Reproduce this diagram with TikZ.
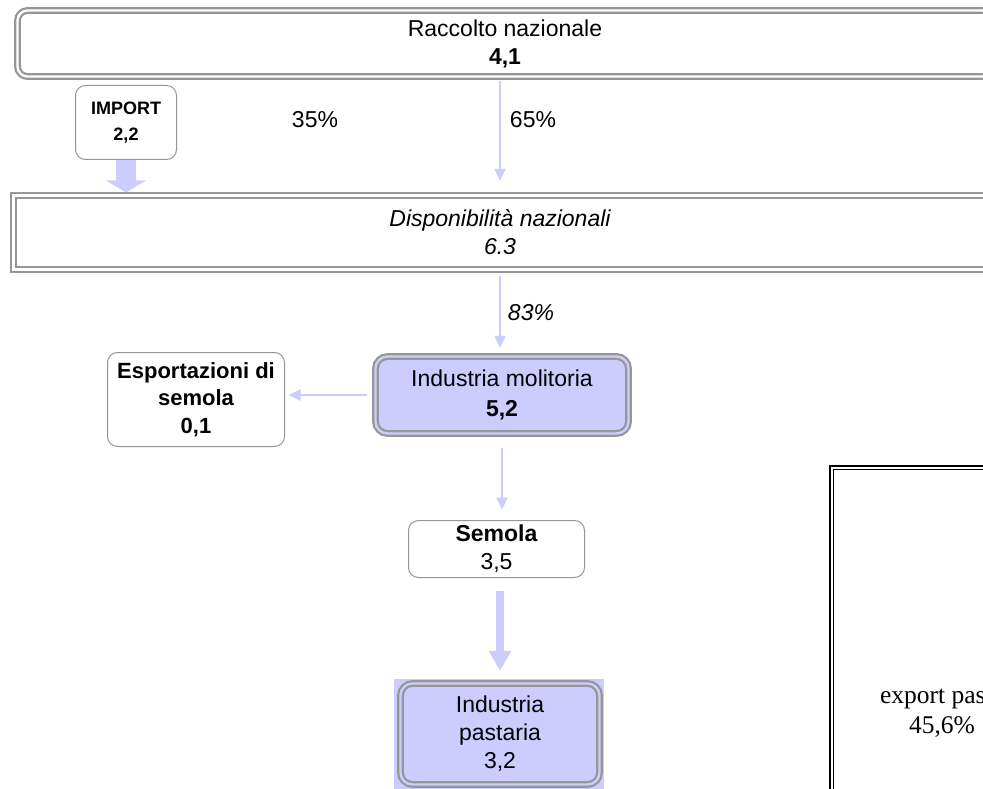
\documentclass[tikz,border=0pt]{standalone}
\usepackage{fontspec}
\newfontfamily\arialf{Liberation Sans}
\newfontfamily\timesf{Liberation Serif}
\usetikzlibrary{arrows.meta,backgrounds}
\definecolor{lav}{RGB}{204,204,255}
\definecolor{rim}{RGB}{150,150,150}
\newcommand{\bigfont}{\arialf\fontsize{23}{28}\selectfont}

\begin{document}
\begin{tikzpicture}[x=1pt, y=-1pt,
  txt/.style={font=\bigfont, align=center, inner sep=0pt},
  bandbox/.style={txt, draw=rim, line width=2.2pt, double=white, double distance=2.4pt},
  plantbox/.style={txt, draw=rim, line width=2.2pt, double=lav, double distance=2.4pt, fill=lav, rounded corners=12pt},
  roundbox/.style={txt, draw=rim, line width=1pt, fill=white, rounded corners=10pt},
  arr/.style={-{Triangle[width=11pt,length=12pt]}, line width=2pt, lav},
  fatarr/.style={-{Triangle[width=40pt,length=12pt]}, line width=20pt, lav},
  midarr/.style={-{Triangle[width=21pt,length=20pt]}, line width=8pt, lav}
]
  \useasboundingbox (0,0) rectangle (983,789);
  \clip (0,0) rectangle (983,789);
  \node[bandbox, rounded corners=10pt, minimum width=975pt, minimum height=66pt] (raccolto) at (505,43.5) {Raccolto nazionale\\\textbf{4,1}};
  \node[roundbox, font=\arialf\bfseries\fontsize{18}{26}\selectfont, minimum width=101pt, minimum height=74pt] (import) at (126,122.5) {IMPORT\\2,2};
  \node[bandbox, font=\bigfont\itshape, minimum width=973pt, minimum height=74pt] (dispon) at (500,232.5) {Disponibilità nazionali\\6.3};
  \node[plantbox, minimum width=253pt, minimum height=77pt] (molit) at (502,395) {Industria molitoria\\[2pt]\textbf{5,2}};
  \node[roundbox, font=\arialf\bfseries\fontsize{22}{27.5}\selectfont, minimum width=177pt, minimum height=94pt] (espo) at (196,399.5) {Esportazioni di\\semola\\0,1};
  \node[roundbox, minimum width=176pt, minimum height=57pt] (semola) at (496.5,549) {\textbf{Semola}\\3,5};
  \node[plantbox, minimum width=199pt, minimum height=101pt] (pasta) at (500,734) {Industria\\pastaria\\3,2};
  \node[draw, line width=1.3pt, double=white, double distance=2pt, minimum width=240pt, minimum height=400pt, anchor=north west] (expbox) at (831,467) {};
  \node[font=\timesf\fontsize{25.5}{30}\selectfont, align=center, inner sep=0pt] (expasta) at (942,713) {export pasta\\45,6\%};

  \node[txt] (p35) at (315,120) {35\%};
  \node[txt] (p65) at (533,120) {65\%};
  \node[txt, font=\bigfont\itshape] (p83) at (531,313) {83\%};

  \draw[fatarr, shorten >=2pt] (import.south) -- (import.south |- dispon.north);
  \draw[arr, shorten <=3.5pt, shorten >=13.5pt] (dispon.north |- raccolto.south) -- (dispon.north);
  \draw[arr, shorten <=5.5pt, shorten >=7.5pt] (dispon.south) -- (dispon.south |- molit.north);
  \draw[arr, shorten <=7.5pt, shorten >=3.5pt] (molit.west) -- (molit.west -| espo.east);
  \draw[arr, shorten <=13.5pt, shorten >=10.5pt] (molit.south) -- (molit.south |- semola.north);
  \draw[midarr, shorten <=12.5pt, shorten >=11.5pt] (semola.south -| pasta.north) -- (pasta.north);

  \begin{scope}[on background layer]
    \clip (0,0) rectangle (983,789);
    \fill[white] (0,0) rectangle (983,789);
    \fill[lav] ([xshift=-5pt,yshift=3.4pt]pasta.north west) rectangle ([xshift=3.4pt,yshift=-10pt]pasta.south east);
  \end{scope}
\end{tikzpicture}
\end{document}
